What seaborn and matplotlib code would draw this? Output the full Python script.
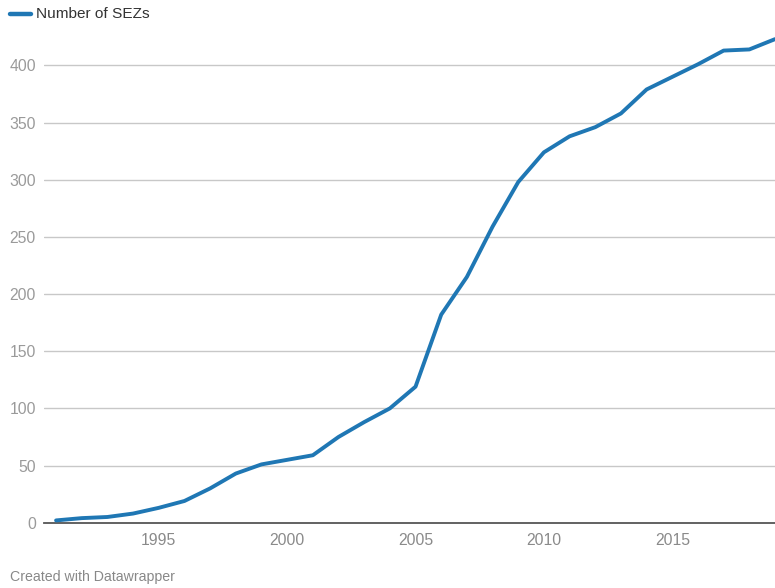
import matplotlib
matplotlib.use("Agg")
import matplotlib.pyplot as plt
import seaborn as sns
import pandas as pd

years = list(range(1991, 2020))
sez_counts = [2, 4, 5, 8, 13, 19, 30, 43, 51, 55, 59, 75, 88, 100, 119,
              182, 215, 259, 298, 324, 338, 346, 358, 379, 390, 401, 413, 414, 423]
y_ticks = [0, 50, 100, 150, 200, 250, 300, 350, 400]
x_ticks = [1995, 2000, 2005, 2010, 2015]
series_label = "Number of SEZs"
footer = "Created with Datawrapper"

line_color = "#1f77b4"

sns.set_theme(style="white")
plt.rcParams["font.family"] = ["Liberation Sans", "DejaVu Sans"]

df = pd.DataFrame({"year": years, "count": sez_counts})

W, H = 775, 588
fig = plt.figure(figsize=(W / 100, H / 100), dpi=100)
ax_left, ax_right = 44, 775
ax_top, ax_bottom = 30, 522.7
ax = fig.add_axes([ax_left / W, 1 - ax_bottom / H,
                   (ax_right - ax_left) / W, (ax_bottom - ax_top) / H])

sns.lineplot(data=df, x="year", y="count", ax=ax, color=line_color,
             linewidth=2.8, solid_joinstyle="round", solid_capstyle="round",
             zorder=3, clip_on=False)

ax.set_xlim(1990.53, 2019)
ax.set_ylim(0, 431)
ax.set_yticks(y_ticks)
ax.set_xticks(x_ticks)
ax.set_xlabel("")
ax.set_ylabel("")

for s in ["top", "right", "left"]:
    ax.spines[s].set_visible(False)
ax.spines["bottom"].set_color("#555555")
ax.spines["bottom"].set_linewidth(1.3)

for v in y_ticks[1:]:
    ax.axhline(v, color="#c8c8c8", linewidth=1.0, zorder=1)

ax.tick_params(axis="y", length=0, pad=5.8, labelsize=11.3, labelcolor="#9a9a9a")
ax.tick_params(axis="x", length=0, pad=7.5, labelsize=11.3, labelcolor="#8a8a8a")

# legend key drawn in figure coordinates
fig.add_artist(plt.Line2D([10 / W, 31 / W], [1 - 14 / H, 1 - 14 / H],
                          color=line_color, linewidth=3.2,
                          solid_capstyle="round"))
fig.text(36 / W, 1 - 14 / H, series_label, fontsize=11.1, color="#333333",
         va="center", ha="left")

fig.text(10 / W, 1 - 577 / H, footer, fontsize=10.2, color="#888888",
         va="center", ha="left")

fig.savefig("out.png", dpi=100)
